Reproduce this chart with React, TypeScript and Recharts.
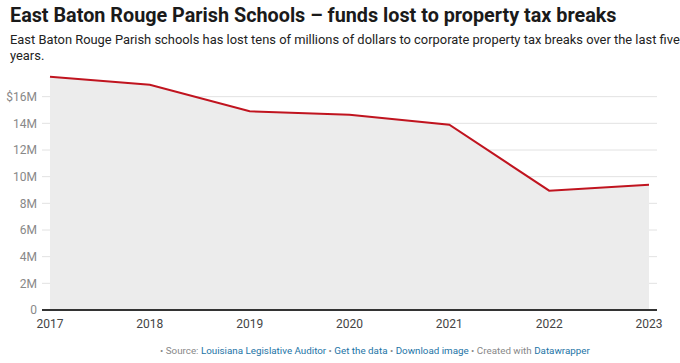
import { ComposedChart, Area, XAxis, YAxis, CartesianGrid } from 'recharts';

const years = ['2017', '2018', '2019', '2020', '2021', '2022', '2023'];
const fundsLost = [17.5e6, 16.9e6, 14.9e6, 14.65e6, 13.9e6, 8.95e6, 9.4e6];
const yTicks = [0, 2e6, 4e6, 6e6, 8e6, 10e6, 12e6, 14e6, 16e6];

const data = years.map((year, i) => ({ year, value: fundsLost[i] }));

const fmtY = (v: number) => {
  if (v === 0) return '0';
  const s = `${v / 1e6}M`;
  return v === 16e6 ? `$${s}` : s;
};

export default function App() {
  return (
    <div style={{ position: 'absolute', top: 0, left: 0, width: 680, height: 363, background: '#fff', fontFamily: 'Roboto, sans-serif' }}>
      <div style={{ position: 'absolute', left: 10, top: 4, fontSize: 19.8, fontWeight: 700, color: '#1a1a1a', whiteSpace: 'nowrap' }}>
        East Baton Rouge Parish Schools – funds lost to property tax breaks
      </div>
      <div style={{ position: 'absolute', left: 10, top: 32, width: 670, fontSize: 12.9, lineHeight: '16px', color: '#222' }}>
        East Baton Rouge Parish schools has lost tens of millions of dollars to corporate property tax breaks over the last five years.
      </div>
      <div style={{ position: 'absolute', left: 0, top: 0 }}>
        <ComposedChart width={680} height={363} data={data} margin={{ top: 70, right: 23, bottom: 23, left: 0 }}>
          <CartesianGrid vertical={false} stroke="#e2e2e2" syncWithTicks />
          <XAxis
            dataKey="year"
            padding={{ left: 8, right: 8 }}
            tickLine={false}
            axisLine={{ stroke: '#333', strokeWidth: 2 }}
            tick={{ fill: '#444', fontSize: 12 }}
            tickMargin={3}
          />
          <YAxis
            width={42}
            domain={[0, 18e6]}
            ticks={yTicks}
            tickFormatter={fmtY}
            axisLine={false}
            tickLine={false}
            tickSize={0}
            tickMargin={5}
            tick={{ fill: '#888', fontSize: 12 }}
          />
          <Area
            type="linear"
            dataKey="value"
            stroke="#c0141f"
            strokeWidth={2}
            fill="#ececec"
            fillOpacity={1}
            isAnimationActive={false}
            dot={false}
            activeDot={false}
          />
        </ComposedChart>
      </div>
      <div style={{ position: 'absolute', left: 160, top: 345, fontSize: 9.8, color: '#888', whiteSpace: 'nowrap' }}>
        • Source: <span style={{ color: '#1d74a6' }}>Louisiana Legislative Auditor</span> • <span style={{ color: '#1d74a6' }}>Get the data</span> • <span style={{ color: '#1d74a6' }}>Download image</span> • Created with <span style={{ color: '#1d74a6' }}>Datawrapper</span>
      </div>
    </div>
  );
}
